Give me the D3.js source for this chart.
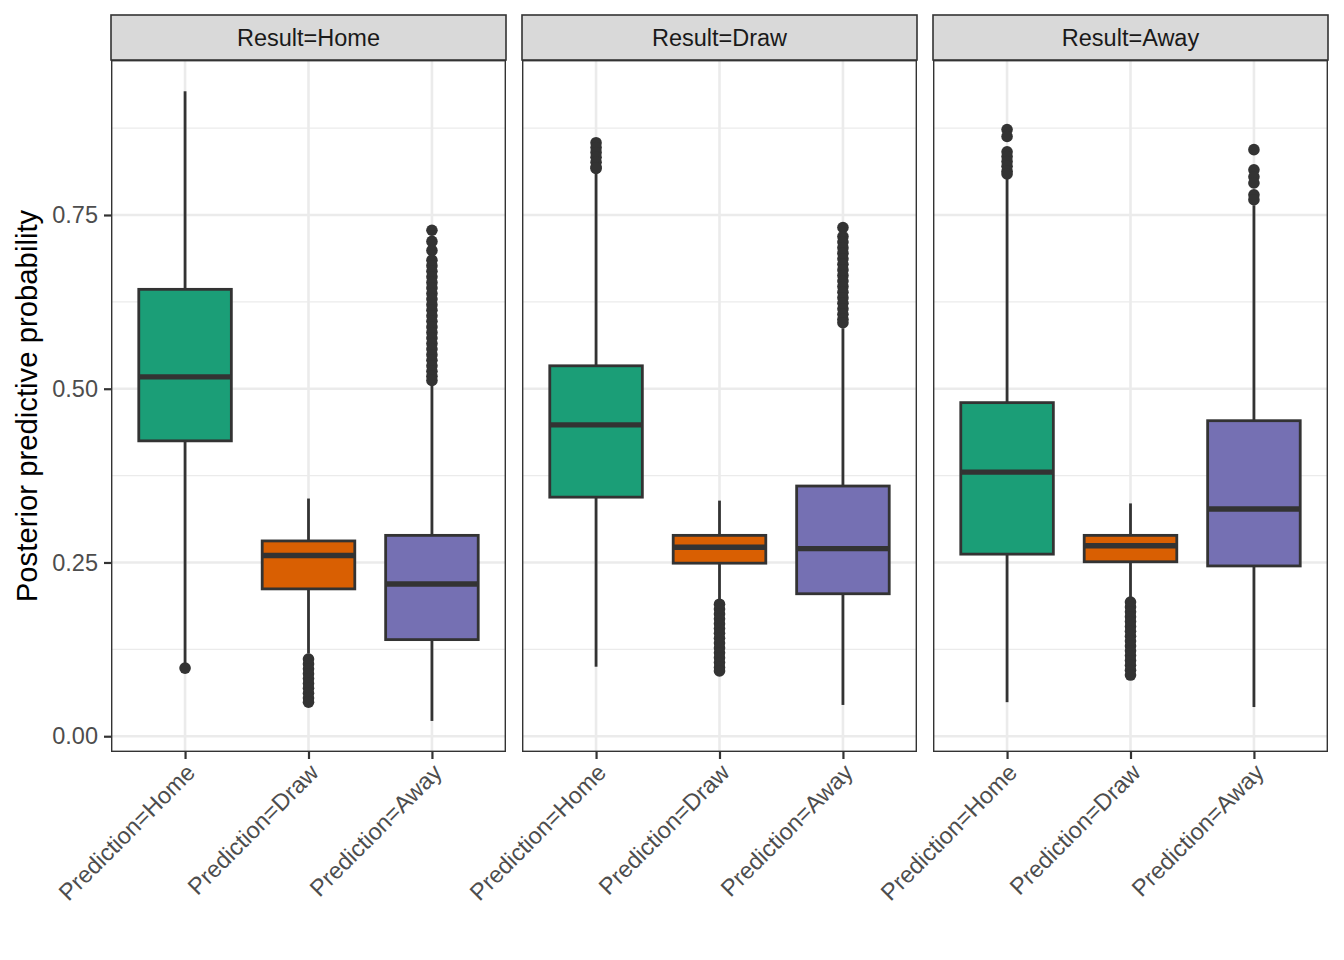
<!DOCTYPE html>
<html>
<head>
<meta charset="utf-8">
<script src="https://d3js.org/d3.v7.min.js"></script>
<style>
  body { margin: 0; background: #fff; }
  svg text { font-family: "Liberation Sans", Arial, sans-serif; }
</style>
</head>
<body>
<svg id="viz" width="1344" height="960"></svg>
<script>
// facets and categories
const results = ["Home", "Draw", "Away"];
const predictions = ["Home", "Draw", "Away"];
const fills = ["#1B9E77", "#D95F02", "#7570B3"];
const yTicks = [0, 0.25, 0.5, 0.75];
const yMinor = [0.125, 0.375, 0.625, 0.875];

// box stats, one row per Result facet, columns follow predictions
const whiskerLow  = [[0.104, 0.119, 0.022], [0.100, 0.196, 0.045], [0.049, 0.200, 0.042]];
const q1          = [[0.425, 0.212, 0.139], [0.344, 0.249, 0.205], [0.262, 0.251, 0.245]];
const median      = [[0.517, 0.260, 0.219], [0.448, 0.272, 0.270], [0.380, 0.274, 0.327]];
const q3          = [[0.643, 0.281, 0.289], [0.533, 0.289, 0.360], [0.480, 0.289, 0.454]];
const whiskerHigh = [[0.928, 0.342, 0.505], [0.810, 0.339, 0.587], [0.803, 0.335, 0.764]];

// outliers
const outliers = [
  [
    [0.098],
    [0.111, 0.104, 0.097, 0.090, 0.083, 0.076, 0.069, 0.062, 0.055, 0.049],
    [0.728, 0.712, 0.699, 0.685, 0.677, 0.669, 0.661, 0.653, 0.645, 0.637, 0.629, 0.621, 0.613,
     0.605, 0.597, 0.589, 0.581, 0.573, 0.565, 0.557, 0.549, 0.541, 0.533, 0.525, 0.518, 0.512]
  ],
  [
    [0.854, 0.847, 0.840, 0.833, 0.826, 0.819, 0.817],
    [0.190, 0.183, 0.176, 0.169, 0.162, 0.155, 0.148, 0.141, 0.134, 0.127, 0.120, 0.113, 0.106, 0.099, 0.094],
    [0.732, 0.719, 0.711, 0.703, 0.695, 0.687, 0.679, 0.671, 0.663, 0.655, 0.647, 0.639, 0.631,
     0.623, 0.615, 0.607, 0.600, 0.595]
  ],
  [
    [0.873, 0.863, 0.841, 0.834, 0.827, 0.820, 0.813, 0.809],
    [0.193, 0.186, 0.179, 0.172, 0.165, 0.158, 0.151, 0.144, 0.137, 0.130, 0.123, 0.116, 0.109, 0.102, 0.095, 0.088],
    [0.844, 0.815, 0.805, 0.796, 0.779, 0.772]
  ]
];

const panelTop = 60, panelBottom = 752, stripTop = 15;

var svg = d3.select("#viz");

var facet = d3.scaleBand()
  .domain(results)
  .range([111, 1328])
  .paddingInner(16 / 411);
var pw = facet.bandwidth();

var y = d3.scaleLinear()
  .domain([-0.0227, 0.973])
  .range([panelBottom, panelTop]);

var x = d3.scalePoint()
  .domain(predictions)
  .range([0, pw])
  .padding(0.6);
var boxW = x.step() * 0.75;

results.forEach(function (r, fi) {
  var g = svg.append("g")
    .attr("transform", "translate(" + facet(r) + ",0)");

  // strip
  g.append("rect")
    .attr("x", 0).attr("y", stripTop)
    .attr("width", pw).attr("height", panelTop - stripTop)
    .attr("fill", "#d9d9d9")
    .attr("stroke", "#333333")
    .attr("stroke-width", 1.6);
  g.append("text")
    .attr("x", pw / 2).attr("y", (stripTop + panelTop) / 2)
    .attr("dy", "0.36em")
    .attr("text-anchor", "middle")
    .style("font-size", "23.5px")
    .style("fill", "#1a1a1a")
    .text("Result=" + r);

  // grid
  g.selectAll(".minor")
    .data(yMinor).enter().append("line")
    .attr("x1", 0).attr("x2", pw)
    .attr("y1", d => y(d)).attr("y2", d => y(d))
    .attr("stroke", "#ebebeb").attr("stroke-width", 1.4);
  g.selectAll(".major")
    .data(yTicks).enter().append("line")
    .attr("x1", 0).attr("x2", pw)
    .attr("y1", d => y(d)).attr("y2", d => y(d))
    .attr("stroke", "#ebebeb").attr("stroke-width", 2.6);
  g.selectAll(".vmajor")
    .data(predictions).enter().append("line")
    .attr("x1", d => x(d)).attr("x2", d => x(d))
    .attr("y1", panelTop).attr("y2", panelBottom)
    .attr("stroke", "#ebebeb").attr("stroke-width", 2.6);

  predictions.forEach(function (p, pi) {
    var cx = x(p);
    var bx = g.append("g");
    // whiskers
    bx.append("line")
      .attr("x1", cx).attr("x2", cx)
      .attr("y1", y(q3[fi][pi])).attr("y2", y(whiskerHigh[fi][pi]))
      .attr("stroke", "#333333").attr("stroke-width", 2.8);
    bx.append("line")
      .attr("x1", cx).attr("x2", cx)
      .attr("y1", y(q1[fi][pi])).attr("y2", y(whiskerLow[fi][pi]))
      .attr("stroke", "#333333").attr("stroke-width", 2.8);
    // outliers
    bx.selectAll("circle")
      .data(outliers[fi][pi]).enter().append("circle")
      .attr("cx", cx).attr("cy", d => y(d))
      .attr("r", 5.8)
      .attr("fill", "#333333");
    // box
    bx.append("rect")
      .attr("x", cx - boxW / 2)
      .attr("y", y(q3[fi][pi]))
      .attr("width", boxW)
      .attr("height", y(q1[fi][pi]) - y(q3[fi][pi]))
      .attr("fill", fills[pi])
      .attr("stroke", "#333333").attr("stroke-width", 2.8);
    bx.append("line")
      .attr("x1", cx - boxW / 2).attr("x2", cx + boxW / 2)
      .attr("y1", y(median[fi][pi])).attr("y2", y(median[fi][pi]))
      .attr("stroke", "#333333").attr("stroke-width", 5.4);
  });

  // panel border
  g.append("rect")
    .attr("x", 0.7).attr("y", panelTop + 0.7)
    .attr("width", pw - 1.4).attr("height", panelBottom - panelTop - 1.4)
    .attr("fill", "none")
    .attr("stroke", "#333333").attr("stroke-width", 1.4);

  // x axis
  var xa = g.append("g")
    .attr("transform", "translate(0," + panelBottom + ")")
    .call(d3.axisBottom(x).tickSize(7).tickSizeOuter(0));
  xa.select(".domain").remove();
  xa.selectAll(".tick line").attr("stroke", "#333333").attr("stroke-width", 2.2);
  xa.selectAll(".tick text")
    .text(d => "Prediction=" + d)
    .attr("y", null).attr("dy", null)
    .attr("transform", "translate(-1,10) rotate(-45)")
    .attr("dy", "0.72em")
    .attr("text-anchor", "end")
    .style("font-size", "23.5px")
    .style("font-family", "Liberation Sans, Arial, sans-serif")
    .style("fill", "#4d4d4d");

  if (fi === 0) {
    var ya = g.append("g")
      .call(d3.axisLeft(y).tickValues(yTicks).tickFormat(d3.format(".2f")).tickSize(7).tickSizeOuter(0));
    ya.select(".domain").remove();
    ya.selectAll(".tick line").attr("stroke", "#333333").attr("stroke-width", 2.2);
    ya.selectAll(".tick text")
      .attr("x", -13)
      .style("font-size", "23.5px")
      .style("font-family", "Liberation Sans, Arial, sans-serif")
      .style("fill", "#4d4d4d");
  }
});

// y title
svg.append("text")
  .attr("transform", "translate(37," + ((panelTop + panelBottom) / 2) + ") rotate(-90)")
  .attr("text-anchor", "middle")
  .style("font-size", "29.3px")
  .style("fill", "#000")
  .text("Posterior predictive probability");
</script>
</body>
</html>
